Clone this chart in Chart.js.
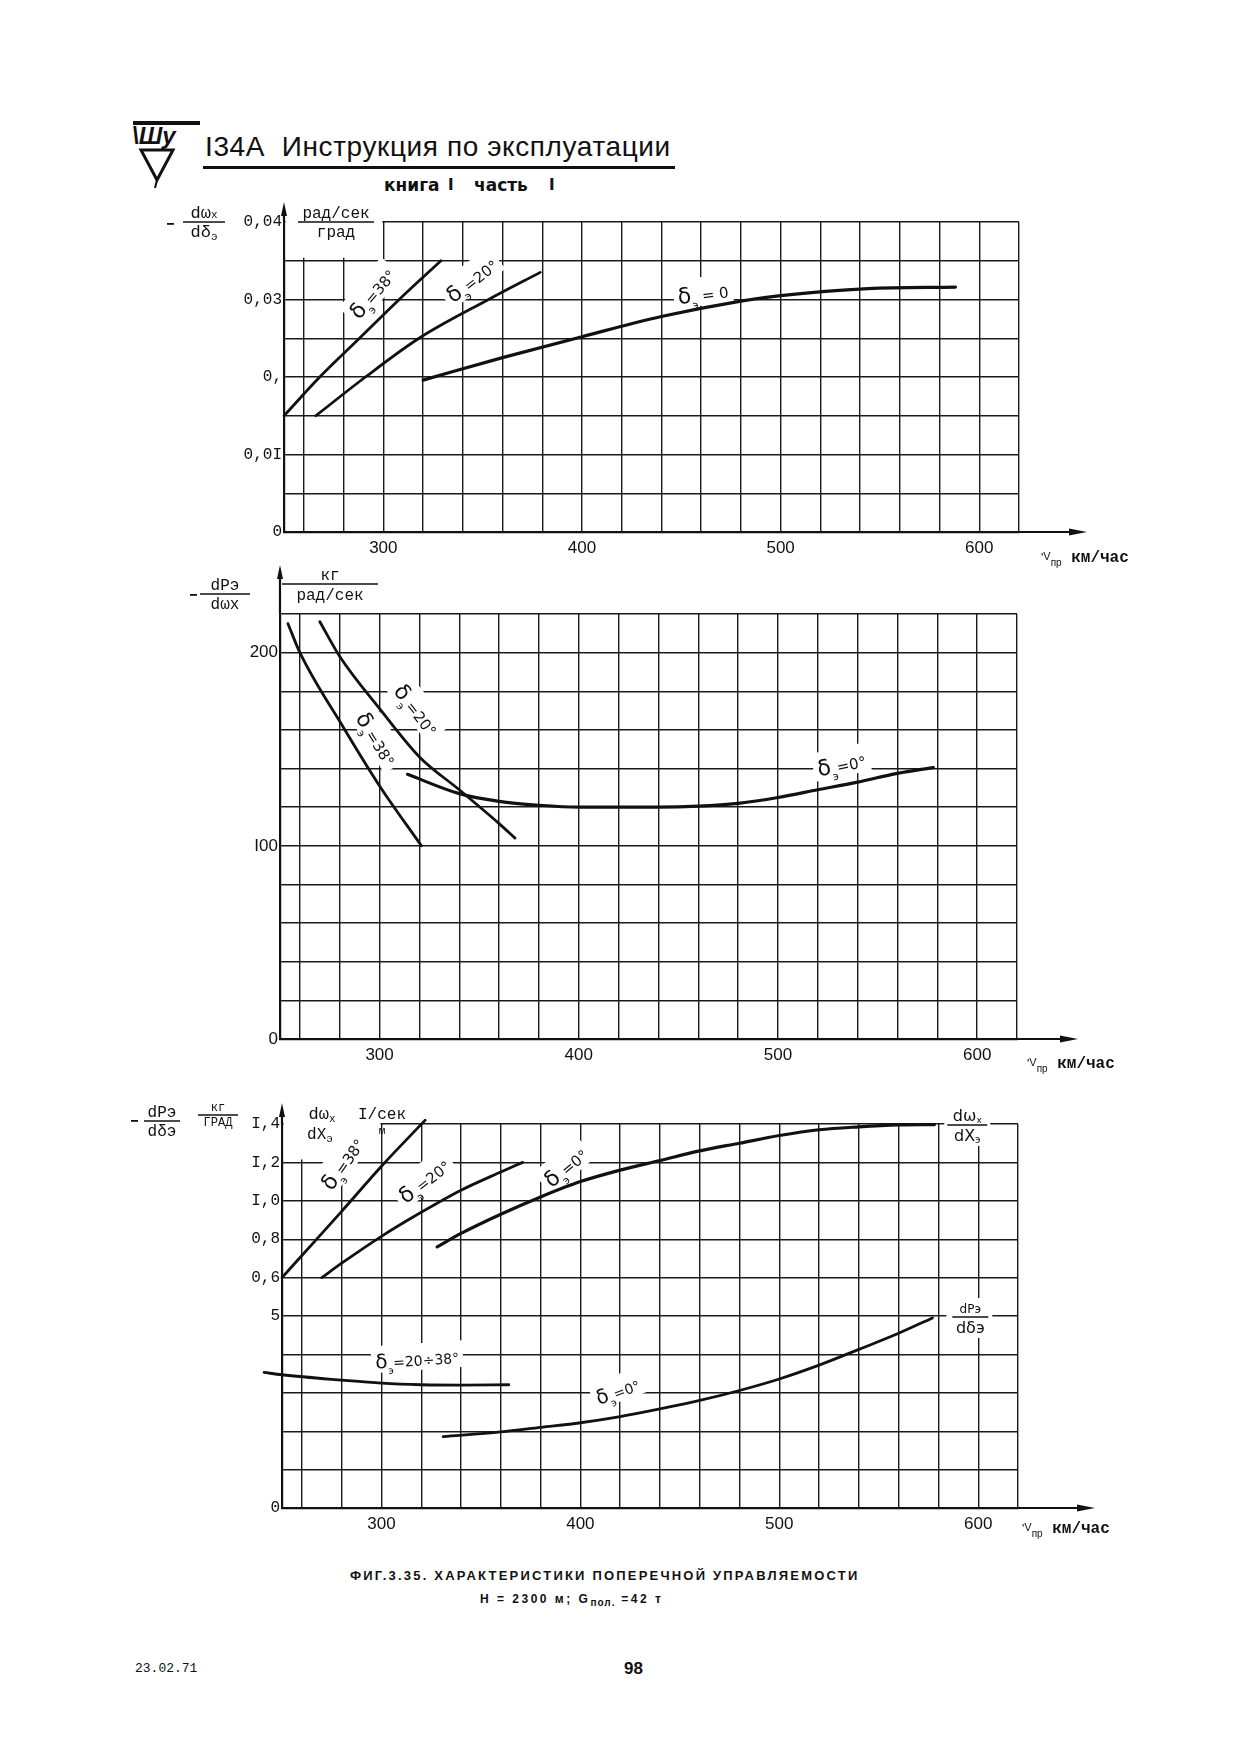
<!DOCTYPE html>
<html lang="ru">
<head>
<meta charset="utf-8">
<title>Фиг.3.35. Характеристики поперечной управляемости</title>
<script src="https://cdn.jsdelivr.net/npm/chart.js@4.4.0/dist/chart.umd.min.js"></script>
<style>
  html, body { margin: 0; padding: 0; background: #fff; }
  body { width: 1242px; height: 1761px; position: relative; overflow: hidden; color: #111; font-family: 'Liberation Sans', Arial, sans-serif; }
  .abs { position: absolute; white-space: nowrap; }
  canvas { position: absolute; left: 0; }
</style>
</head>
<body>

<svg class="abs" style="left:128px;top:118px" width="80" height="72">
  <line x1="5" y1="5" x2="72" y2="5" stroke="#111" stroke-width="4"/>
  <text x="4" y="26" font-family="Liberation Sans" font-weight="bold" font-style="italic" font-size="24" fill="#111">\Шу</text>
  <polygon points="13,32 45,32 29,62" fill="none" stroke="#111" stroke-width="3"/>
  <line x1="29" y1="62" x2="27" y2="70" stroke="#111" stroke-width="2"/>
</svg>
<div class="abs" style="left:205px;top:131px;font:28px 'Liberation Sans';letter-spacing:0.6px">I34A&nbsp; Инструкция по эксплуатации</div>
<div class="abs" style="left:203px;top:166px;width:472px;border-top:3px solid #111"></div>
<div class="abs" style="left:384px;top:175px;font:bold 17px 'DejaVu Sans'">книга</div>
<div class="abs" style="left:448px;top:176px;font:bold 15px 'DejaVu Sans'">I</div>
<div class="abs" style="left:474px;top:175px;font:bold 17px 'DejaVu Sans'">часть</div>
<div class="abs" style="left:549px;top:176px;font:bold 15px 'DejaVu Sans'">I</div>

<canvas id="c1" width="1242" height="400" style="top:180px"></canvas>
<canvas id="c2" width="1242" height="525" style="top:555px"></canvas>
<canvas id="c3" width="1242" height="480" style="top:1075px"></canvas>

<div class="abs" style="left:350px;top:1568px;font:bold 13px 'Liberation Sans';letter-spacing:2.2px">ФИГ.3.35. ХАРАКТЕРИСТИКИ ПОПЕРЕЧНОЙ УПРАВЛЯЕМОСТИ</div>
<div class="abs" style="left:480px;top:1592px;font:bold 12px 'Liberation Sans';letter-spacing:2.5px">H = 2300 м; G<sub style="font-size:10px;letter-spacing:1px">пол.</sub> =42 т</div>
<div class="abs" style="left:135px;top:1661px;font:13px 'Liberation Mono'">23.02.71</div>
<div class="abs" style="left:624px;top:1659px;font:bold 17px 'Liberation Sans'">98</div>

<script>
// ---- speed axis (common to all three graphs), km/h
const speedTicks = [250, 260, 280, 300, 320, 340, 360, 380, 400, 420, 440, 460, 480, 500, 520, 540, 560, 580, 600, 620];
const speedLabels = [300, 400, 500, 600];

// ---- graph 1: -dωx/dδэ, (рад/сек)/град
const g1Ticks = [0, 0.005, 0.01, 0.015, 0.02, 0.025, 0.03, 0.035, 0.04];
const g1TickText = ['0', '', '0,0I', '', '0,', '', '0,03', '', '0,04'];
const g1Speed38 = [250, 268, 288, 308, 329];
const g1Val38 = [0.015, 0.020, 0.025, 0.030, 0.035];
const g1Speed20 = [266, 291, 318, 353, 379];
const g1Val20 = [0.015, 0.020, 0.025, 0.030, 0.0335];
const g1Speed0 = [320, 360, 400, 440, 480, 500, 544, 588];
const g1Val0 = [0.0196, 0.0225, 0.0252, 0.0278, 0.0298, 0.0305, 0.0314, 0.0316];

// ---- graph 2: -dPэ/dωx, кг/(рад/сек)
const g2Ticks = [0, 20, 40, 60, 80, 100, 120, 140, 160, 180, 200, 220];
const g2TickText = ['0', '', '', '', '', 'I00', '', '', '', '', '200', ''];
const g2Speed38 = [254, 260, 282, 300, 321];
const g2Val38 = [215, 200, 161, 131, 100];
const g2Speed20 = [270, 280, 300, 320, 340, 360, 368];
const g2Val20 = [216, 198, 171, 146, 129, 111.5, 104];
const g2Speed0 = [314, 340, 360, 380, 400, 420, 440, 460, 480, 500, 520, 540, 560, 578];
const g2Val0 = [137, 127, 123, 121, 120, 120, 120, 120.5, 122, 125, 129, 133, 137.5, 140.5];

// ---- graph 3: dωx/dXэ (I/сек)/м (upper family) and -dPэ/dδэ кг/град (lower family)
const g3Ticks = [0, 1, 2, 3, 4, 5, 6, 7, 8, 9, 10];
const g3TickText = ['0', '', '', '', '', '5', '0,6', '0,8', 'I,0', 'I,2', 'I,4'];
const g3Speed38 = [250, 260, 280, 300, 322];
const g3Rate38 = [0.6, 0.715, 0.945, 1.18, 1.42];
const g3Speed20 = [270, 280, 300, 320, 340, 360, 371];
const g3Rate20 = [0.6, 0.675, 0.815, 0.94, 1.055, 1.15, 1.2];
const g3Speed0 = [328, 340, 360, 380, 400, 420, 440, 460, 480, 500, 520, 540, 560, 578];
const g3Rate0 = [0.76, 0.83, 0.93, 1.02, 1.10, 1.16, 1.21, 1.26, 1.30, 1.34, 1.37, 1.385, 1.395, 1.397];
const g3SpeedF2038 = [241, 250, 280, 300, 320, 340, 364];
const g3Force2038 = [3.53, 3.47, 3.33, 3.25, 3.21, 3.2, 3.21];
const g3SpeedF0 = [331, 360, 380, 400, 420, 440, 460, 480, 500, 520, 540, 560, 577];
const g3Force0 = [1.86, 1.98, 2.1, 2.22, 2.38, 2.58, 2.80, 3.06, 3.36, 3.72, 4.13, 4.55, 4.95];

const INK = '#111';
const GRID = '#1a1a1a';
const MONO = "'Liberation Mono', 'DejaVu Sans Mono', monospace";
const SANS = "'Liberation Sans', Arial, sans-serif";
const LAB = "'DejaVu Sans', sans-serif";

function pts(xs, ys) {
  return xs.map((x, i) => ({ x: x, y: ys[i] }));
}

function curve(xs, ys, axisId, width) {
  return {
    data: pts(xs, ys),
    yAxisID: axisId || 'y',
    borderColor: INK,
    borderWidth: width || 2.8,
    pointRadius: 0,
    fill: false,
    clip: false,
    borderCapStyle: 'round',
    cubicInterpolationMode: 'monotone'
  };
}

function speedAxis(height) {
  return {
    type: 'linear', min: 250, max: 620,
    afterBuildTicks: s => { s.ticks = speedTicks.map(v => ({ value: v })); },
    afterFit: s => { s.height = height; },
    grid: { color: GRID, lineWidth: 1.4, drawTicks: false },
    border: { color: INK, width: 2.2 },
    ticks: {
      autoSkip: false, maxRotation: 0, padding: 6, color: INK,
      font: { family: SANS, size: 17 },
      callback: v => speedLabels.includes(v) ? String(v) : ''
    }
  };
}

function valueAxis(min, max, ticks, texts, width, font) {
  return {
    type: 'linear', min: min, max: max,
    afterBuildTicks: s => { s.ticks = ticks.map(v => ({ value: v })); },
    afterFit: s => { s.width = width; },
    grid: { color: GRID, lineWidth: 1.4, drawTicks: false },
    border: { color: INK, width: 2.2 },
    ticks: { autoSkip: false, padding: 2, color: INK, font: font, callback: (v, i) => texts[i] }
  };
}

// text run: list of [text, font, dy]
function runWidth(ctx, run) {
  let w = 0;
  run.forEach(p => { ctx.font = p[1]; w += ctx.measureText(p[0]).width; });
  return w;
}
function drawRun(ctx, x, y, run, align) {
  const w = runWidth(ctx, run);
  let cx = align === 'center' ? x - w / 2 : x;
  ctx.fillStyle = INK;
  ctx.textBaseline = 'alphabetic';
  ctx.textAlign = 'left';
  run.forEach(p => {
    ctx.font = p[1];
    ctx.fillText(p[0], cx, y + (p[2] || 0));
    cx += ctx.measureText(p[0]).width;
  });
  return w;
}
function drawFrac(ctx, cx, barY, top, bottom, barW, gap) {
  const g = gap || 13;
  drawRun(ctx, cx, barY - 4, top, 'center');
  drawRun(ctx, cx, barY + g, bottom, 'center');
  ctx.strokeStyle = INK;
  ctx.lineWidth = 1.5;
  ctx.beginPath();
  ctx.moveTo(cx - barW / 2, barY);
  ctx.lineTo(cx + barW / 2, barY);
  ctx.stroke();
}

// δэ=… label rotated along a curve, on a white patch
function deltaLabel(ctx, px, py, angle, tail, size) {
  const run = [['δ', `${Math.round(size * 1.45)}px ${LAB}`, 0],
               ['э', `${Math.round(size * 0.72)}px ${LAB}`, size * 0.45],
               [tail, `${size}px ${LAB}`, 0]];
  ctx.save();
  ctx.translate(px, py);
  ctx.rotate(angle * Math.PI / 180);
  const w = runWidth(ctx, run);
  ctx.fillStyle = '#fff';
  ctx.fillRect(-w / 2 - 4, -size * 1.2, w + 8, size * 1.9);
  drawRun(ctx, 0, size * 0.4, run, 'center');
  ctx.restore();
}

function speedUnit(ctx, x, y) {
  drawRun(ctx, x, y, [["'", `12px ${SANS}`, 0], ['V', `11px ${SANS}`, -2], ['пр', `10px ${SANS}`, 4],
                      [' км/час', `bold 16px ${MONO}`, 0]]);
}

function arrows(ctx, a, xEnd, yEnd) {
  ctx.save();
  ctx.strokeStyle = INK;
  ctx.fillStyle = INK;
  ctx.lineWidth = 2.2;
  ctx.beginPath();
  ctx.moveTo(a.right, a.bottom);
  ctx.lineTo(xEnd - 10, a.bottom);
  ctx.moveTo(a.left, a.top);
  ctx.lineTo(a.left, yEnd + 8);
  ctx.stroke();
  ctx.beginPath();
  ctx.moveTo(xEnd, a.bottom);
  ctx.lineTo(xEnd - 18, a.bottom - 3.5);
  ctx.lineTo(xEnd - 18, a.bottom + 3.5);
  ctx.closePath();
  ctx.fill();
  ctx.beginPath();
  ctx.moveTo(a.left, yEnd);
  ctx.lineTo(a.left - 3, yEnd + 14);
  ctx.lineTo(a.left + 3, yEnd + 14);
  ctx.closePath();
  ctx.fill();
  ctx.restore();
}

function blankCorner(ctx, a, x, xTo, yBottomPx) {
  ctx.save();
  ctx.fillStyle = '#fff';
  ctx.fillRect(a.left + 1.6, a.top - 2, x.getPixelForValue(xTo) - a.left - 2.6, yBottomPx - a.top);
  ctx.restore();
}

const FT = `17px ${MONO}`;
const FS = `11px ${MONO}`;
const FU = `16px ${MONO}`;

// ---------- graph 1
new Chart(document.getElementById('c1'), {
  type: 'line',
  data: { datasets: [curve(g1Speed38, g1Val38), curve(g1Speed20, g1Val20), curve(g1Speed0, g1Val0, 'y', 3.2)] },
  options: {
    responsive: false, animation: false, events: [],
    layout: { padding: { left: 200, right: 223, top: 42, bottom: 0 } },
    plugins: { legend: { display: false }, tooltip: { enabled: false } },
    scales: {
      x: speedAxis(48),
      y: valueAxis(0, 0.04, g1Ticks, g1TickText, 84, { family: MONO, size: 16 })
    }
  },
  plugins: [{
    id: 'g1deco',
    beforeDatasetsDraw(chart) {
      const { ctx, chartArea: a, scales: { x, y } } = chart;
      blankCorner(ctx, a, x, 300, y.getPixelForValue(0.035) - 1);
      deltaLabel(ctx, x.getPixelForValue(295), y.getPixelForValue(0.0307), -50, '=38°', 15);
      deltaLabel(ctx, x.getPixelForValue(345), y.getPixelForValue(0.0324), -38, '=20°', 15);
      deltaLabel(ctx, x.getPixelForValue(461), y.getPixelForValue(0.0306), -8, ' = 0', 15);
    },
    afterDraw(chart) {
      const { ctx, chartArea: a } = chart;
      arrows(ctx, a, a.right + 68, a.top - 20);
      ctx.save();
      ctx.fillStyle = INK;
      ctx.fillRect(a.left - 117, a.top + 1, 7, 1.8);
      drawFrac(ctx, a.left - 80, a.top, [['dω', FT], ['x', FS, 0]], [['dδ', FT], ['э', FS, 3]], 42, 15);
      drawFrac(ctx, a.left + 52, a.top, [['рад/сек', FU]], [['град', FU]], 76, 15);
      speedUnit(ctx, a.right + 22, a.bottom + 30);
      ctx.restore();
    }
  }]
});

// ---------- graph 2
new Chart(document.getElementById('c2'), {
  type: 'line',
  data: { datasets: [curve(g2Speed38, g2Val38), curve(g2Speed20, g2Val20), curve(g2Speed0, g2Val0, 'y', 3.2)] },
  options: {
    responsive: false, animation: false, events: [],
    layout: { padding: { left: 200, right: 225, top: 59, bottom: 0 } },
    plugins: { legend: { display: false }, tooltip: { enabled: false } },
    scales: {
      x: speedAxis(41),
      y: valueAxis(0, 220, g2Ticks, g2TickText, 80, { family: SANS, size: 17 })
    }
  },
  plugins: [{
    id: 'g2deco',
    beforeDatasetsDraw(chart) {
      const { ctx, scales: { x, y } } = chart;
      deltaLabel(ctx, x.getPixelForValue(318), y.getPixelForValue(170), 52, '=20°', 15);
      deltaLabel(ctx, x.getPixelForValue(298), y.getPixelForValue(155), 58, '=38°', 15);
      deltaLabel(ctx, x.getPixelForValue(532), y.getPixelForValue(141.5), -12, '=0°', 15);
    },
    afterDraw(chart) {
      const { ctx, chartArea: a } = chart;
      arrows(ctx, a, a.right + 61, a.top - 49);
      ctx.save();
      ctx.fillStyle = INK;
      ctx.fillRect(a.left - 90, a.top - 20, 7, 1.8);
      drawFrac(ctx, a.left - 55, a.top - 20, [['dPэ', FU]], [['dωx', FU]], 50, 15);
      drawFrac(ctx, a.left + 50, a.top - 30, [['кг', FU]], [['рад/сек', FU]], 96, 16);
      speedUnit(ctx, a.right + 10, a.bottom + 29);
      ctx.restore();
    }
  }]
});

// ---------- graph 3
new Chart(document.getElementById('c3'), {
  type: 'line',
  data: {
    datasets: [
      curve(g3Speed38, g3Rate38, 'y2'), curve(g3Speed20, g3Rate20, 'y2'), curve(g3Speed0, g3Rate0, 'y2', 3.2),
      curve(g3SpeedF2038, g3Force2038, 'y'), curve(g3SpeedF0, g3Force0, 'y')
    ]
  },
  options: {
    responsive: false, animation: false, events: [],
    layout: { padding: { left: 200, right: 224, top: 49, bottom: 0 } },
    plugins: { legend: { display: false }, tooltip: { enabled: false } },
    scales: {
      x: speedAxis(47),
      y: valueAxis(0, 10, g3Ticks, g3TickText, 82, { family: MONO, size: 16 }),
      y2: { axis: 'y', type: 'linear', min: -0.6, max: 1.4, display: false }
    }
  },
  plugins: [{
    id: 'g3deco',
    beforeDatasetsDraw(chart) {
      const { ctx, chartArea: a, scales: { x, y, y2 } } = chart;
      blankCorner(ctx, a, x, 300, y.getPixelForValue(9) - 1);
      deltaLabel(ctx, x.getPixelForValue(281), y2.getPixelForValue(1.19), -55, '=38°', 15);
      deltaLabel(ctx, x.getPixelForValue(322), y2.getPixelForValue(1.10), -38, '=20°', 15);
      deltaLabel(ctx, x.getPixelForValue(393), y2.getPixelForValue(1.17), -40, '=0°', 15);
      deltaLabel(ctx, x.getPixelForValue(318), y.getPixelForValue(3.85), -4, '=20÷38°', 14);
      deltaLabel(ctx, x.getPixelForValue(419), y.getPixelForValue(3.02), -20, '=0°', 14);
      // curve-family names at right
      ctx.save();
      ctx.fillStyle = '#fff';
      const rx = x.getPixelForValue(592);
      ctx.fillRect(rx - 18, y2.getPixelForValue(1.4) - 18, 46, 40);
      ctx.fillRect(rx - 16, y.getPixelForValue(5) - 18, 46, 40);
      ctx.restore();
      drawFrac(ctx, rx + 5, y2.getPixelForValue(1.4) + 1, [['dω', `16px ${LAB}`], ['x', `9px ${LAB}`, 2]],
               [['dX', `16px ${LAB}`], ['э', `10px ${LAB}`, 2]], 40, 16);
      drawFrac(ctx, rx + 8, y.getPixelForValue(5) + 1, [['dPэ', `12px ${LAB}`]], [['dδэ', `16px ${LAB}`]], 36, 16);
    },
    afterDraw(chart) {
      const { ctx, chartArea: a } = chart;
      arrows(ctx, a, a.right + 77, a.top - 21);
      ctx.save();
      ctx.fillStyle = INK;
      ctx.fillRect(a.left - 151, a.top - 4, 7, 1.8);
      drawFrac(ctx, a.left - 120, a.top - 3, [['dPэ', FU]], [['dδэ', FU]], 36, 15);
      drawFrac(ctx, a.left - 64, a.top - 9, [['кг', `12px ${MONO}`]], [['ГРАД', `12px ${MONO}`]], 40, 11);
      drawRun(ctx, a.left + 40, a.top - 5, [['dω', FT], ['x', FS, 3]], 'center');
      drawRun(ctx, a.left + 38, a.top + 15, [['dX', FU], ['э', FS, 3]], 'center');
      drawRun(ctx, a.left + 100, a.top - 5, [['I/сек', FU]], 'center');
      drawRun(ctx, a.left + 100, a.top + 10, [['м', FS]], 'center');
      speedUnit(ctx, a.right + 4, a.bottom + 25);
      ctx.restore();
    }
  }]
});
</script>
</body>
</html>
